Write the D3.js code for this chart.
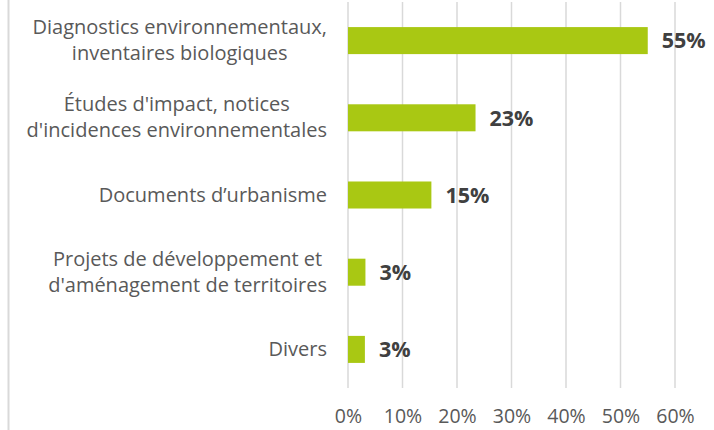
<!DOCTYPE html>
<html>
<head>
<meta charset="utf-8">
<script src="https://cdn.jsdelivr.net/npm/d3@7"></script>
<style>
  html, body { margin: 0; padding: 0; background: #fff; }
  svg { display: block; font-family: "Open Sans", sans-serif; }
</style>
</head>
<body>
<div id="chart"></div>
<script>
// categories (each as label lines) and values in percent
const categories = [
    ["Diagnostics environnementaux,", "inventaires biologiques"],
    ["Études d'impact, notices", "d'incidences environnementales"],
    ["Documents d\u2019urbanisme"],
    ["Projets de développement et ", "d'aménagement de territoires"],
    ["Divers"]
];
const values = [55, 23.4, 15.3, 3.2, 3.1];
const valueLabels = ["55%", "23%", "15%", "3%", "3%"];
const xTicks = [0, 10, 20, 30, 40, 50, 60];

const chartW = 714, chartH = 430;
const plotLeft = 348, plotRight = 675, plotTop = 2, plotBottom = 388;

const svg = d3.select('#chart').append('svg')
    .attr('width', chartW)
    .attr('height', chartH);

const x = d3.scaleLinear().domain([0, 60]).range([plotLeft, plotRight]);
const y = d3.scaleBand()
    .domain(d3.range(categories.length))
    .range([plotTop, plotBottom])
    .paddingInner(0.65)
    .paddingOuter(0.325);

// left frame line
svg.append('line')
    .attr('x1', 8.5).attr('x2', 8.5)
    .attr('y1', 0).attr('y2', chartH)
    .attr('stroke', '#d9d9d9')
    .attr('stroke-width', 2);

// grid
svg.append('g').selectAll('line')
    .data(xTicks)
    .join('line')
    .attr('x1', d => x(d)).attr('x2', d => x(d))
    .attr('y1', plotTop).attr('y2', plotBottom)
    .attr('stroke', '#d9d9d9')
    .attr('stroke-width', 1.5);

// x axis labels
const xAxis = svg.append('g')
    .attr('transform', `translate(0,${plotBottom})`)
    .call(d3.axisBottom(x).tickValues(xTicks).tickFormat(d => d + '%').tickSize(0).tickPadding(21));
xAxis.select('.domain').remove();
xAxis.selectAll('text')
    .attr('font-family', '"Open Sans", sans-serif')
    .attr('font-size', 19.5)
    .attr('fill', '#595959');

// bars
svg.append('g').selectAll('rect')
    .data(values)
    .join('rect')
    .attr('x', x(0))
    .attr('y', (d, i) => y(i))
    .attr('width', d => x(d) - x(0))
    .attr('height', y.bandwidth())
    .attr('fill', '#a9c813');

// value labels
svg.append('g').selectAll('text')
    .data(values)
    .join('text')
    .attr('x', d => x(d) + 14)
    .attr('y', (d, i) => y(i) + y.bandwidth() / 2)
    .attr('dy', '0.36em')
    .attr('font-size', 21.5)
    .attr('font-weight', 'bold')
    .attr('fill', '#404040')
    .text((d, i) => valueLabels[i]);

// category labels: lines centred in their block, block right-aligned
const labelRight = 327;
const lineH = 26;
categories.forEach((lines, i) => {
    const cy = y(i) + y.bandwidth() / 2;
    const g = svg.append('g');
    const texts = g.selectAll('text')
        .data(lines)
        .join('text')
        .attr('y', (d, j) => cy + (j - (lines.length - 1) / 2) * lineH)
        .attr('dy', '0.33em')
        .attr('font-size', 20)
        .attr('fill', '#595959')
        .attr('text-anchor', 'middle')
        .text(d => d);
    const w = d3.max(texts.nodes(), n => n.getComputedTextLength());
    texts.attr('x', labelRight - w / 2);
});
</script>
</body>
</html>
